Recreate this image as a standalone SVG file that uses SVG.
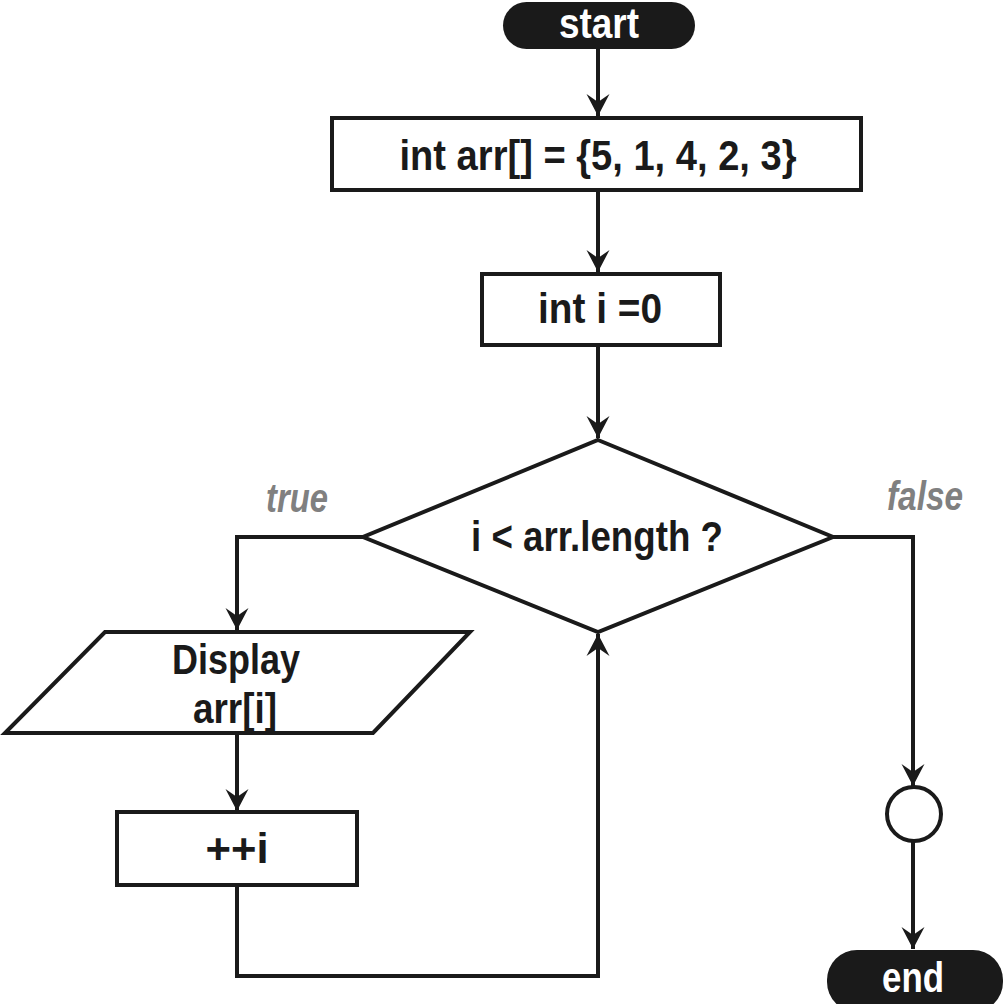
<svg xmlns="http://www.w3.org/2000/svg" width="1004" height="1004" viewBox="0 0 1004 1004">
<defs>
<style>
.shape{fill:#fff;stroke:#1a1a1a;stroke-width:4}
.pill{fill:#1a1a1a}
.conn{fill:none;stroke:#1a1a1a;stroke-width:4}
.t{font-family:"Liberation Sans","Arial",sans-serif;font-size:43px;font-weight:bold;fill:#1a1a1a;text-anchor:middle}
.w{fill:#fff}
.lbl{font-family:"Liberation Sans","Arial",sans-serif;font-size:40px;font-weight:bold;font-style:italic;fill:#808080;text-anchor:middle}
</style>
<marker id="ahd" markerUnits="userSpaceOnUse" markerWidth="26" markerHeight="26" viewBox="0 0 26 26" refX="24" refY="13" orient="auto">
<path d="M2,1.5 L10,13 L2,24.5 L24,13 Z" fill="#1a1a1a"/>
</marker>
</defs>
<rect width="1004" height="1004" fill="#fff"/>
<g id="connectors">
<line class="conn" x1="598" y1="48" x2="598" y2="116" marker-end="url(#ahd)"/>
<line class="conn" x1="598" y1="190" x2="598" y2="272" marker-end="url(#ahd)"/>
<line class="conn" x1="598" y1="345" x2="598" y2="438" marker-end="url(#ahd)"/>
<polyline class="conn" points="363,537 237,537 237,630" marker-end="url(#ahd)"/>
<line class="conn" x1="237" y1="733" x2="237" y2="811" marker-end="url(#ahd)"/>
<polyline class="conn" points="237,885 237,976 598,976 598,634" marker-end="url(#ahd)"/>
<polyline class="conn" points="833,537 913,537 913,786" marker-end="url(#ahd)"/>
<line class="conn" x1="913" y1="841" x2="913" y2="949" marker-end="url(#ahd)"/>
</g>
<g id="start">
<rect class="pill" x="503" y="2" width="192" height="47" rx="23.5"/>
<text class="t w" x="599" y="38" textLength="80" lengthAdjust="spacingAndGlyphs">start</text>
</g>
<g id="init-arr">
<rect class="shape" x="332" y="118" width="529" height="72"/>
<text class="t" x="598" y="170" textLength="397" lengthAdjust="spacingAndGlyphs">int arr[] = {5, 1, 4, 2, 3}</text>
</g>
<g id="init-i">
<rect class="shape" x="482" y="274" width="238" height="71"/>
<text class="t" x="600" y="323" textLength="124" lengthAdjust="spacingAndGlyphs">int i =0</text>
</g>
<g id="condition">
<polygon class="shape" points="598,440 833,537 598,632 363,537"/>
<text class="t" x="597" y="551" textLength="252" lengthAdjust="spacingAndGlyphs">i &lt; arr.length ?</text>
</g>
<g id="display">
<polygon class="shape" points="105,632 470,632 373,733 5,733"/>
<text class="t" x="236" y="674" textLength="128" lengthAdjust="spacingAndGlyphs">Display</text>
<text class="t" x="235" y="723" textLength="84" lengthAdjust="spacingAndGlyphs">arr[i]</text>
</g>
<g id="increment">
<rect class="shape" x="117" y="812" width="240" height="73"/>
<text class="t" x="237" y="863" textLength="63" lengthAdjust="spacingAndGlyphs">++i</text>
</g>
<g id="connector-point">
<circle class="shape" cx="914" cy="814" r="27"/>
</g>
<g id="end">
<rect class="pill" x="827" y="950" width="176" height="62" rx="30"/>
<text class="t w" x="913" y="992" textLength="62" lengthAdjust="spacingAndGlyphs">end</text>
</g>
<g id="labels">
<text class="lbl" x="297" y="512" textLength="62" lengthAdjust="spacingAndGlyphs">true</text>
<text class="lbl" x="925" y="510" textLength="76" lengthAdjust="spacingAndGlyphs">false</text>
</g>
</svg>
